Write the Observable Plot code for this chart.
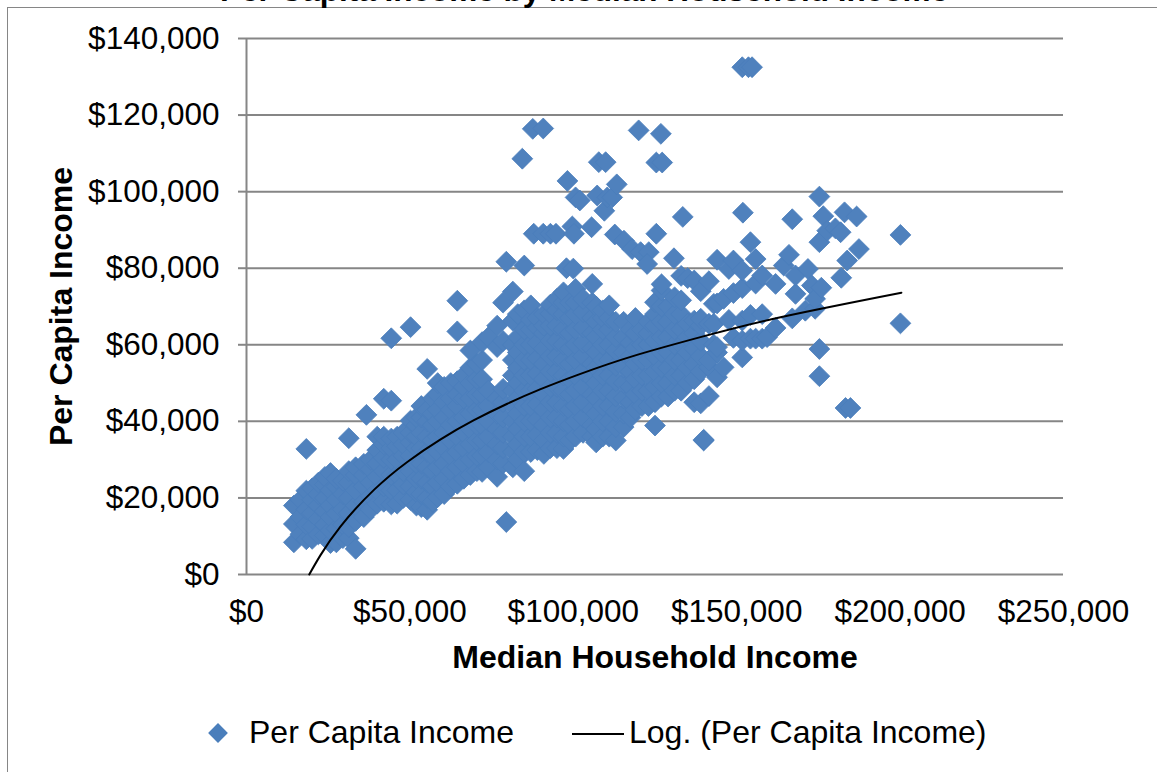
<!DOCTYPE html>
<html><head><meta charset="utf-8">
<script src="https://cdn.jsdelivr.net/npm/d3@7"></script>
<script src="https://cdn.jsdelivr.net/npm/@observablehq/plot@0.6"></script>
<style>
html,body{margin:0;padding:0;background:#fff}
#wrap{position:relative;width:1157px;height:772px;overflow:hidden;font-family:"Liberation Sans",Arial,sans-serif;color:#000}
#wrap svg{position:absolute;left:0;top:0;background:transparent}
#frame{position:absolute;left:7px;top:7px;width:1200px;height:800px;border:1.5px solid #868686}
.t{position:absolute;white-space:nowrap;font-size:32px;line-height:36px}
#title{left:220px;top:-28.5px;font-weight:bold;font-size:31.5px}
#swatch{position:absolute;left:211px;top:726px;width:14px;height:14px;background:#4a7ebb;transform:rotate(45deg)}
#lg1{left:249px;top:714px}
#lg2{left:629px;top:714px}
#lgline{position:absolute;left:572px;top:732.5px;width:52px;height:2px;background:#000}
</style></head><body>
<div id="wrap">
<div id="frame"></div>
<div id="title" class="t">Per Capita Income by Median Household Income</div>
<div id="chart"></div>
<div id="swatch"></div><div id="lg1" class="t">Per Capita Income</div>
<div id="lgline"></div><div id="lg2" class="t">Log. (Per Capita Income)</div>
</div>
<script>
// All values in thousands of dollars. Each column: [median household income, per capita income...]
const columnsUnder40k = [
 [14.5,8.4,13.2,18],[16.5,10.5,15,19.5],[18.3,9.2,13,17,21.9,32.8],[20.1,9.3,12.5,16,19.5,22.5],
 [22,10.5,14.5,18,21,24],[24,10.2,13,16.5,20,23.5,25.5],[25.7,8.2,11.5,15,18,22,26.5],[27.5,8.4,12,16,19.5,23,25],
 [29.5,9.5,13,17,21,24.5],[31.3,9.5,12.4,16,20,24,27,35.6],[33.4,6.7,14,18,22,26,28],[35.9,15,19,23,26,28.9],
 [36.7,41.7],[38,17,20.5,24,27.5,30]
];
const columns40to70k = [
 [40,18.5,22,25.5,29,32.5,36],[42,19,23,27,30.5,34,36,45.9],[44.3,18.3,22,26,30,33,35.5,45.4,61.7],
 [46.1,18.5,22,26,30,33.5,36],[48,20,23.5,27,31,34,37],[50.2,19.5,23,27,31,34.5,37,40.2,64.6],
 [52,18,21.5,25,29,33,36,39,41],[53.5,17.6,21,25,29,33,37,41,44],[55.3,16.9,20,24,28,32,36,40,43,53.7],
 [57,19,23,27,31,35,39,42,46],[58.5,20.2,24,28,32,36,40,43,47,50],[60.5,21,25,29,33,37,41,45,49],
 [62.5,23,27,31,35,39,43,46,50],[64.5,23.7,28,32,36,40,44,47,50.5,63.5,71.5],[66.5,25,29,33,37,41,46,49,52],
 [68.5,26,30,34,38,42,46,50,54,58.5]
];
const columns70to100k = [
 [70.5,27,31,35,39,43,47,51,55],[72.1,26.8,31,35,39,43,47,51,56,60.7],[74,28,32,36,40,44,48,62],
 [76.7,25.5,30,34,38,42,46,59.4,65],[78.5,29,33,37,41,45,48.5,61,71],[79.5,13.7,81.7],
 [81.5,28,32,36,40,44,48,52,56,60,66.3,73.9],[83,30,34,38,42,46,50,54,58,62,68],
 [85,27,32,36,40,44,48,52,56,60,64,69,80.7],[87,32,36,40,44,48,52,56,60,64,66.5,70.3],
 [89,32.5,36.5,40.5,44.5,48.5,52.5,56.5,60.5,64.5,67],[91,31.5,35,39,43,47,51,55,59,63,65,68],
 [93,33,37,41,45,49,53,57,61,65,68.1,70.5],[95,33,37,41,45,49,53,57,61,65,69,72],
 [97,32.8,36,40,44,48,52,56,60,64,68,71,73.7],[99,35,39,43,47,51,55,59,63,67,71]
];
const columns100to130k = [
 [100.7,36,40,44,48,52,56,60,64,68,71,74.6],[103,37,41,45,49,53,57,60.5,64.5,68.5,72],
 [105.8,36,39,43,47,51,55,59,63,67,71,75.9],[107,34.5,38,42,46,50,54,58,62,66,70],
 [109,36,40,44,48,52,56,60,64,67,69],[111,36,40,44,48,52,56,60,64,67,70.3],
 [113,35,38.5,42.5,46.5,50.5,54.5,58.5,62,66],[115.4,38.5,42,46,50,54,58,62,66],
 [117.5,41,45,49,53,57,60.5,64],[119,43,47,51,55,59,63,67],[121,44,48,52,56,60,64],
 [123,44,48,52,56,60,63,66],[125,38.9,45,49,53,57,61,65,68,71.1],[127,46.5,50,54,58,62,66,70,74.2,75.8],
 [129,46.5,50,54,58,62,66,70]
];
const columnsOver130k = [
 [131,48,52,56,60,64,68,72.4],[133,48,52,56,60,64,68,71.6,78],[135,50,54,58,62,65.5,77.4],[137,45,51,55,59,63,66.3,76.8],
 [139,44.7,53,57,61,65,66.8,74],[139.9,35,35.2],[141.5,46.6,54.1,55.9,65.5,76.6],[143,60,65.5,70.7],[144,51.5,58,59.4,70.8,82.2],
 [146,54.1,72],[147.6,66.5,79.8],[149,61.8,73.5,82],[151.7,56.7,61.1,66.3,74.8,79.4],[151.9,94.5],
 [154.2,61.6,67.8,86.8],[155.8,61.6,76,82.4],[157.8,61.6,68,78.1],[159.3,62],[161.9,64.4,75.9],
 [164.4,80.7],[166,83.5],[167,66.9,92.8],[168,73.3,78.1],[171,68.9],[171.8,79.8],[173,75.5],[174,69.4,72],
 [175.3,51.8,58.9,86.8,98.7],[175.9,74.9],[176.5,93.6],[177.7,89.8],[180.2,90.4],[181.8,89.4],[182,77.5],
 [183,94.6],[183.3,43.5],[183.8,82],[184.8,43.5],[186.7,93.5],[187.4,85],[200.1,65.6,88.7]
];
const columnsUpperOutliers = [
 [84.4,108.6],[87.6,116.4],[90.8,116.5],[87.9,89],[90.8,89],[93,89],[94.7,89],[97.9,80],[100,79.9],[98.2,102.8],
 [99.7,90.9],[100.2,89],[100.7,98.5],[102,97.7],[105.6,90.7],[107.3,99],[107.8,107.7],[109.9,107.7],[109.5,95],
 [110.4,98.5],[111.9,98.5],[113.3,101.9],[112.7,88.8],[115.5,87.2],[118,85],[120,116],[120.6,84.2],[123.1,84.2],
 [122.6,81.1],[125.4,89,107.6],[127.2,107.6],[126.8,115.1],[130.8,82.6],[133.5,93.4],[151.7,132.5],[153.6,132.5],[154.7,132.5]
];
const trendIncome = [19.2,22.6,28.8,39,49.2,59.4,69.6,79.8,90,102.2,118.5,138.9,163.4,200.4];
const trendPerCapita = [0,5,12.6,22.1,29.4,35.3,40.3,44.6,48.4,52.4,57.1,62,67.2,73.6];
const xTicks = [0,50000,100000,150000,200000,250000];
const yTicks = [0,20000,40000,60000,80000,100000,120000,140000];
const xLabel = "Median Household Income";
const yLabel = "Per Capita Income";

const points = [columnsUnder40k,columns40to70k,columns70to100k,columns100to130k,columnsOver130k,columnsUpperOutliers]
  .flat().flatMap(([x,...ys]) => ys.map(y => ({income:x*1000, perCapita:y*1000})));
const trend = trendIncome.map((x,i) => ({income:x*1000, perCapita:trendPerCapita[i]*1000}));
const money = d3.format("$,.0f");
const grey = "#868686";

const plot = Plot.plot({
  width:1157, height:772,
  marginLeft:246, marginRight:94, marginTop:38, marginBottom:198,
  style:{fontFamily:'"Liberation Sans",Arial,sans-serif', fontSize:"31.5px", color:"#000"},
  x:{domain:[0,250000]},
  y:{domain:[0,140000]},
  marks:[
    Plot.ruleY(yTicks,{stroke:grey,strokeWidth:2}),
    Plot.ruleX([0],{stroke:grey,strokeWidth:2}),
    Plot.axisY({ticks:yTicks,tickFormat:money,tickSize:8,tickPadding:19,stroke:grey,strokeWidth:2,fontSize:31.5,
      label:yLabel,labelAnchor:"center",labelArrow:"none",labelOffset:197}),
    Plot.axisX({ticks:xTicks,tickFormat:money,tickSize:0,tickPadding:25,fontSize:31.5,
      label:xLabel,labelAnchor:"center",labelArrow:"none",labelOffset:93}),
    Plot.dot(points,{x:"income",y:"perCapita",symbol:"diamond2",r:9.4,fill:"#4f81bd",stroke:"#4a7ebb",strokeWidth:0.8}),
    Plot.line(trend,{x:"income",y:"perCapita",stroke:"#000",strokeWidth:2,curve:"natural"})
  ]
});
document.getElementById("chart").appendChild(plot);
// axis titles are bold
plot.querySelectorAll('[aria-label="x-axis label"], [aria-label="y-axis label"]').forEach(n=>{
  n.setAttribute("font-weight","bold"); n.setAttribute("font-size","32");
});
</script>
</body></html>
